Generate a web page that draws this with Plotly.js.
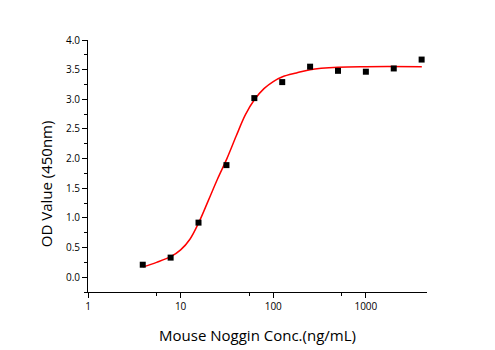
<!DOCTYPE html>
<html>
<head>
<meta charset="utf-8">
<script src="https://cdn.plot.ly/plotly-3.0.1.min.js"></script>
<style>html,body{margin:0;padding:0;background:#fff;}#chart{width:495px;height:350px;}</style>
</head>
<body>
<div id="chart"></div>
<script>
// Measured points
const concentration = [3.9, 7.8, 15.6, 31.25, 62.5, 125, 250, 500, 1000, 2000, 4000];
const odValue = [0.21, 0.33, 0.92, 1.89, 3.02, 3.29, 3.55, 3.48, 3.465, 3.52, 3.67];

// Fitted curve
const fitX = [3.93, 5.5, 7.9, 10, 12.6, 15.8, 20, 25.1, 31.6, 39.8, 50.1, 63.1, 79.4, 100, 126, 178, 250, 500, 1000, 4020];
const fitY = [0.174, 0.25, 0.35, 0.46, 0.64, 0.93, 1.30, 1.66, 2.00, 2.38, 2.74, 3.00, 3.18, 3.30, 3.38, 3.445, 3.50, 3.54, 3.55, 3.55];

// Axis labels
const xTickVals = [1, 10, 100, 1000];
const xTickText = ['1', '10', '100', '1000'];
const xMinorVals = [5.5, 55, 550];
const yTickVals = [0, 0.5, 1, 1.5, 2, 2.5, 3, 3.5, 4];
const yTickText = ['0.0', '0.5', '1.0', '1.5', '2.0', '2.5', '3.0', '3.5', '4.0'];
const xTitle = 'Mouse Noggin Conc.(ng/mL)';
const yTitle = 'OD Value (450nm)';

const traces = [
  {
    x: fitX, y: fitY, type: 'scatter', mode: 'lines',
    line: {color: '#ff0000', width: 1.5, shape: 'spline', smoothing: 1},
    hoverinfo: 'skip', showlegend: false
  },
  {
    x: concentration, y: odValue, type: 'scatter', mode: 'markers',
    marker: {symbol: 'square', size: 6, color: '#000000'},
    showlegend: false
  }
];

const tickFont = {family: 'Open Sans, DejaVu Sans, sans-serif', size: 10, color: '#000'};
const titleFont = {family: 'Open Sans, DejaVu Sans, sans-serif', size: 15, color: '#000'};

const layout = {
  width: 495, height: 350,
  margin: {l: 88, r: 68, t: 40, b: 58},
  paper_bgcolor: '#fff', plot_bgcolor: '#fff',
  showlegend: false,
  xaxis: {
    type: 'log', range: [0, 3.66],
    tickmode: 'array', tickvals: xTickVals, ticktext: xTickText,
    ticks: 'outside', ticklen: 5, tickwidth: 1, tickcolor: '#000',
    minor: {tickmode: 'array', tickvals: xMinorVals, ticks: 'outside', ticklen: 3, tickcolor: '#000', showgrid: false},
    showline: true, linecolor: '#000', linewidth: 1,
    showgrid: false, zeroline: false,
    tickfont: tickFont,
    title: {text: xTitle, font: titleFont, standoff: 18}
  },
  yaxis: {
    range: [-0.25, 4.0],
    tickmode: 'array', tickvals: yTickVals, ticktext: yTickText,
    ticks: 'outside', ticklen: 5, tickwidth: 1, tickcolor: '#000',
    minor: {dtick: 0.25, tick0: 0, ticks: 'outside', ticklen: 3, tickcolor: '#000', showgrid: false},
    showline: true, linecolor: '#000', linewidth: 1,
    showgrid: false, zeroline: false,
    tickfont: tickFont
  },
  annotations: [{
    text: yTitle, xref: 'paper', yref: 'paper',
    x: -0.125, y: 0.43, xanchor: 'center', yanchor: 'middle',
    textangle: -90, showarrow: false, font: titleFont
  }]
};

Plotly.newPlot('chart', traces, layout, {staticPlot: true, displayModeBar: false});
</script>
</body>
</html>
